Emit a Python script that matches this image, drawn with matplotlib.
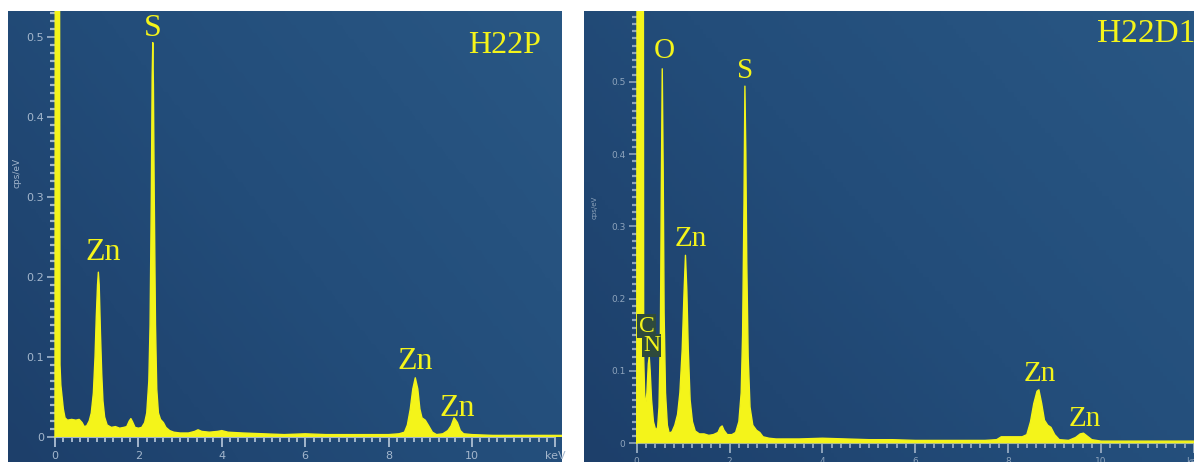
import numpy as np
import matplotlib.pyplot as plt
from matplotlib.colors import LinearSegmentedColormap
from matplotlib.ticker import MultipleLocator, FixedLocator

# H22P spectrum (keV, cps/eV)
e_p = [0.00, 0.01, 0.10, 0.12, 0.14, 0.17, 0.20, 0.24, 0.30, 0.40, 0.50, 0.58, 0.65, 0.70,
       0.76, 0.82, 0.87, 0.92, 0.96, 0.99, 1.02, 1.04, 1.06, 1.09, 1.12, 1.15, 1.19, 1.25,
       1.35, 1.45, 1.55, 1.65, 1.72, 1.78, 1.82, 1.86, 1.92, 2.00, 2.08, 2.15, 2.20, 2.25,
       2.28, 2.31, 2.33, 2.345, 2.36, 2.38, 2.41, 2.44, 2.48, 2.53, 2.60, 2.66, 2.75, 2.85,
       3.00, 3.20, 3.35, 3.43, 3.52, 3.70, 3.90, 4.00, 4.15, 4.50, 5.00, 5.50, 6.00, 6.50,
       7.00, 7.50, 8.00, 8.25, 8.38, 8.45, 8.52, 8.58, 8.64, 8.70, 8.75, 8.80, 8.88, 8.95,
       9.05, 9.15, 9.30, 9.42, 9.50, 9.57, 9.65, 9.72, 9.80, 10.0, 10.5, 11.0, 11.5, 12.0, 12.2]
c_p = [0.000, 1.000, 1.000, 0.090, 0.065, 0.050, 0.035, 0.024, 0.021, 0.022, 0.021, 0.022, 0.018, 0.013,
       0.014, 0.020, 0.030, 0.055, 0.100, 0.150, 0.190, 0.206, 0.190, 0.130, 0.080, 0.045, 0.025, 0.015,
       0.012, 0.013, 0.011, 0.012, 0.013, 0.020, 0.023, 0.019, 0.012, 0.011, 0.012, 0.018, 0.030, 0.070,
       0.140, 0.300, 0.450, 0.493, 0.440, 0.300, 0.140, 0.060, 0.030, 0.022, 0.018, 0.012, 0.008, 0.006,
       0.005, 0.005, 0.007, 0.009, 0.007, 0.006, 0.007, 0.008, 0.006, 0.005, 0.004, 0.003, 0.004, 0.003,
       0.003, 0.003, 0.003, 0.004, 0.006, 0.015, 0.035, 0.060, 0.074, 0.060, 0.035, 0.024, 0.021, 0.015,
       0.006, 0.003, 0.004, 0.008, 0.014, 0.024, 0.018, 0.008, 0.004, 0.003, 0.002, 0.002, 0.002, 0.002, 0.002]

# H22D1 spectrum
e_d = [0.00, 0.01, 0.14, 0.15, 0.17, 0.19, 0.22, 0.25, 0.27, 0.29, 0.32, 0.36, 0.41, 0.45,
       0.48, 0.51, 0.53, 0.55, 0.57, 0.59, 0.62, 0.66, 0.70, 0.76, 0.82, 0.88, 0.93, 0.98,
       1.02, 1.05, 1.08, 1.11, 1.15, 1.20, 1.26, 1.35, 1.45, 1.55, 1.65, 1.75, 1.80, 1.84,
       1.88, 1.95, 2.05, 2.13, 2.20, 2.25, 2.28, 2.31, 2.33, 2.35, 2.37, 2.40, 2.44, 2.50,
       2.58, 2.65, 2.72, 2.85, 3.00, 3.50, 4.00, 4.50, 5.00, 5.50, 6.00, 6.50, 7.00, 7.50,
       7.75, 7.85, 8.10, 8.30, 8.40, 8.48, 8.55, 8.62, 8.66, 8.72, 8.78, 8.85, 8.92, 9.00,
       9.10, 9.30, 9.45, 9.55, 9.62, 9.70, 9.80, 10.0, 10.5, 11.0, 11.5, 12.0]
c_d = [0.000, 1.000, 1.000, 0.120, 0.070, 0.050, 0.070, 0.110, 0.120, 0.100, 0.060, 0.030, 0.018, 0.022,
       0.050, 0.150, 0.350, 0.518, 0.380, 0.180, 0.070, 0.025, 0.014, 0.016, 0.025, 0.040, 0.070, 0.130,
       0.210, 0.260, 0.210, 0.130, 0.060, 0.030, 0.017, 0.013, 0.013, 0.011, 0.012, 0.015, 0.022, 0.024,
       0.018, 0.012, 0.012, 0.015, 0.030, 0.070, 0.150, 0.330, 0.494, 0.400, 0.250, 0.120, 0.050, 0.025,
       0.018, 0.015, 0.009, 0.007, 0.006, 0.006, 0.007, 0.006, 0.005, 0.005, 0.004, 0.004, 0.004, 0.004,
       0.005, 0.009, 0.009, 0.009, 0.012, 0.030, 0.055, 0.072, 0.074, 0.055, 0.032, 0.025, 0.022, 0.012,
       0.005, 0.004, 0.008, 0.013, 0.014, 0.010, 0.005, 0.003, 0.003, 0.003, 0.003, 0.003]

# peak labels: text, keV, cps/eV
lab_p = [("S", 2.35, 0.511), ("Zn", 1.15, 0.231), ("Zn", 8.63, 0.094), ("Zn", 9.64, 0.036)]
lab_d = [("O", 0.60, 0.543), ("S", 2.33, 0.515), ("Zn", 1.16, 0.283),
         ("Zn", 8.67, 0.096), ("Zn", 9.64, 0.034)]
lab_cn = [("C", 0.21, 0.162), ("N", 0.32, 0.135)]
x_major = [0, 2, 4, 6, 8, 10, 12]
x_labels = ['0', '2', '4', '6', '8', '10', 'keV']

W, H = 1194, 462
yellow = '#f4f41a'
bg = LinearSegmentedColormap.from_list('bg', ['#1d3f6a', '#234d7a', '#295784'])


def panel(px, xlim, ylim, tick_col, tick_fs, ylab_y):
    x0, x1, y0, y1 = px
    ax = fig.add_axes([x0 / W, 1 - y1 / H, (x1 - x0) / W, (y1 - y0) / H])
    ax.set_xlim(*xlim)
    ax.set_ylim(*ylim)
    gx, gy = np.meshgrid(np.linspace(0, 1, 200), np.linspace(0, 1, 100))
    ax.imshow(0.6 * gx + 0.4 * gy, cmap=bg, extent=[0, 1, 0, 1], transform=ax.transAxes,
              aspect='auto', origin='lower', zorder=0)
    for s in ['top', 'right']:
        ax.spines[s].set_visible(False)
    ax.spines['left'].set_position(('data', 0))
    ax.spines['bottom'].set_position(('data', 0))
    ax.spines['left'].set_bounds(0, ylim[1])
    ax.spines['bottom'].set_bounds(0, 12)
    for s in ['left', 'bottom']:
        ax.spines[s].set_color(tick_col)
    ax.set_xticks(x_major, x_labels)
    ax.xaxis.set_minor_locator(FixedLocator(np.arange(0, 12.01, 0.2)))
    ax.yaxis.set_major_locator(MultipleLocator(0.1))
    ax.yaxis.set_minor_locator(FixedLocator(np.arange(0, ylim[1], 0.01)))
    ax.yaxis.set_major_formatter(lambda v, p: '0' if abs(v) < 1e-9 else f'{v:.1f}')
    ax.tick_params(which='major', colors=tick_col, labelsize=tick_fs, direction='out')
    ax.tick_params(axis='y', which='major', length=6, width=1.2, pad=2)
    ax.tick_params(axis='y', which='minor', length=3.5, width=1.6, colors=tick_col)
    ax.tick_params(axis='x', which='major', length=7, width=1.4, pad=3)
    ax.tick_params(axis='x', which='minor', length=3.5, width=1.4, colors=tick_col)
    ax.text(-0.9, ylab_y, 'cps/eV', color=tick_col, fontsize=tick_fs - 1.5,
            rotation=90, ha='center', va='center')
    return ax


fig = plt.figure(figsize=(W / 100, H / 100), dpi=100)

# left panel: H22P
ax1 = panel((8, 562, 11, 462), ((8 - 55) / 41.7, (562 - 55) / 41.7),
            (-(462 - 437) / 800, (437 - 11) / 800), '#a3b6cc', 8, 0.33)
ax1.fill_between(e_p, 0, c_p, color=yellow, lw=0, zorder=3)
ax1.plot(e_p, c_p, color=yellow, lw=1, zorder=3)
for t, x, y in lab_p:
    ax1.text(x, y, t, color=yellow, fontsize=23, family='Liberation Serif',
             ha='center', va='center', zorder=4)
ax1.text(10.77, 0.489, 'H22P', color=yellow, fontsize=23, family='Liberation Serif',
         ha='center', va='center', zorder=4)

# right panel: H22D1
ax2 = panel((584, 1194, 11, 462), ((584 - 637) / 46.7, (1194 - 637) / 46.7),
            (-(462 - 443.3) / 723, (443.3 - 11) / 723), '#8ea4bc', 6.5, 0.327)
ax2.fill_between(e_d, 0, c_d, color=yellow, lw=0, zorder=3)
ax2.plot(e_d, c_d, color=yellow, lw=1, zorder=3)
for t, x, y in lab_d:
    ax2.text(x, y, t, color=yellow, fontsize=21, family='Liberation Serif',
             ha='center', va='center', zorder=4)
for t, x, y in lab_cn:
    ax2.text(x, y, t, color=yellow, fontsize=17, family='Liberation Serif',
             ha='center', va='center', zorder=5,
             bbox=dict(boxstyle='square,pad=0.05', fc='#2e4a3c', ec='none'))
ax2.text(9.92, 0.566, 'H22D1', color=yellow, fontsize=24, family='Liberation Serif',
         ha='left', va='center', zorder=4, clip_on=True)

fig.savefig('out.png', dpi=100)
